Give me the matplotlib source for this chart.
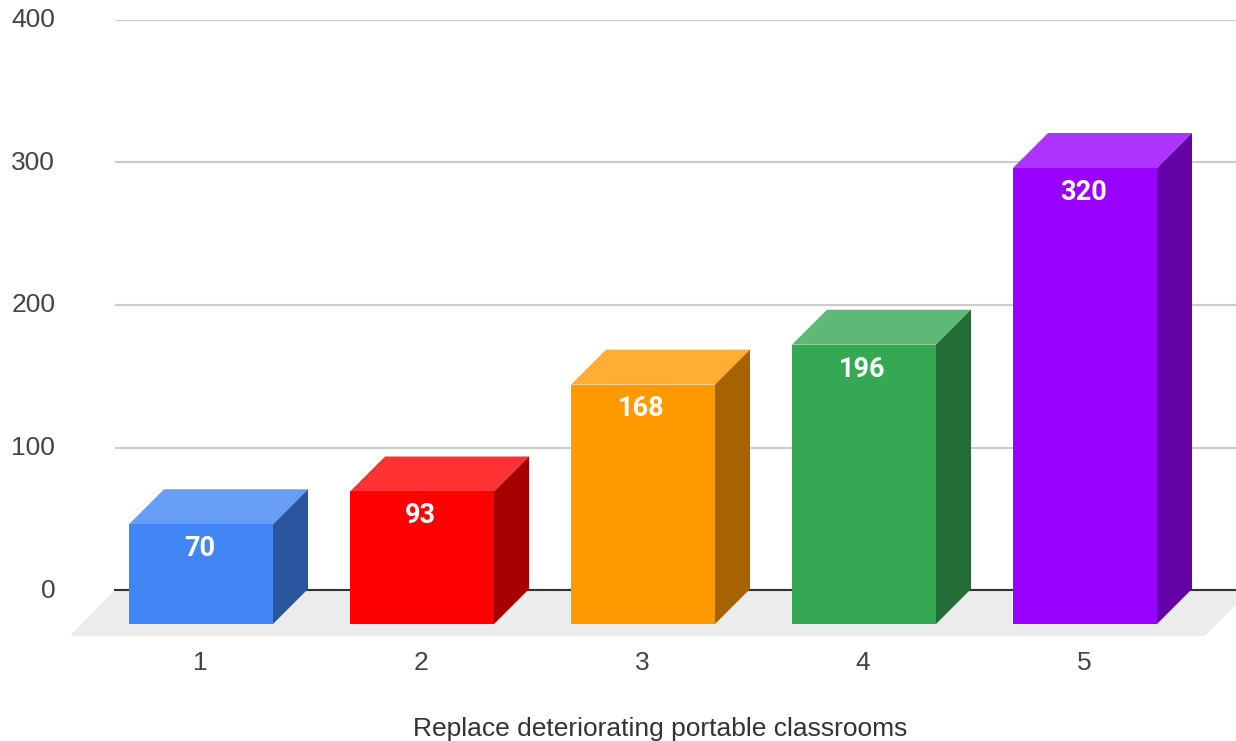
import numpy as np
import matplotlib
matplotlib.use("Agg")
import matplotlib.pyplot as plt
from matplotlib.patches import Polygon
from matplotlib.transforms import ScaledTranslation

categories = [1, 2, 3, 4, 5]
values = [70, 93, 168, 196, 320]
front_colors = ["#4285f4", "#ff0000", "#ff9900", "#34a853", "#9900ff"]
y_ticks = [0, 100, 200, 300, 400]
x_label = "Replace deteriorating portable classrooms"

# figure is laid out in pixels of the reference
W, H = 1236, 741
AX_LEFT, AX_RIGHT, AX_TOP, AX_BOTTOM = 115, 1236, 20, 590
PX_PER_X = 221.0
PX_PER_Y = (AX_BOTTOM - AX_TOP) / 400.0
FIRST_CENTER = 201.0

BAR_W = 144 / PX_PER_X
DEPTH_X = 35 / PX_PER_X
DEPTH_Y = 35 / PX_PER_Y
BASE_Y = -34 / PX_PER_Y


def shade(color, amount):
    # amount > 0 mixes towards white, amount < 0 darkens
    rgb = np.array(matplotlib.colors.to_rgb(color))
    if amount > 0:
        return tuple(rgb + (1 - rgb) * amount)
    return tuple(rgb * (1 + amount))


plt.rcParams["font.family"] = ["Liberation Sans", "DejaVu Sans"]

fig = plt.figure(figsize=(W / 100, H / 100), dpi=100)
ax = fig.add_axes([AX_LEFT / W, 1 - AX_BOTTOM / H, (AX_RIGHT - AX_LEFT) / W, (AX_BOTTOM - AX_TOP) / H])
ax.set_xlim(1 + (AX_LEFT - FIRST_CENTER) / PX_PER_X, 1 + (AX_RIGHT - FIRST_CENTER) / PX_PER_X)
ax.set_ylim(0, 400)
for s in ax.spines.values():
    s.set_visible(False)

# floor
x0, x1 = ax.get_xlim()
floor = Polygon([(x0, 0), (x1, 0), (x1, -15 / PX_PER_Y),
                 (x1 - 31 / PX_PER_X, -46 / PX_PER_Y), (x0 - 45 / PX_PER_X, -46 / PX_PER_Y)],
                closed=True, facecolor="#ececec", edgecolor="none", clip_on=False, zorder=1)
ax.add_patch(floor)

ax.set_yticks(y_ticks)
ax.grid(axis="y", color="#cccccc", lw=1.6, zorder=1.5)
ax.set_axisbelow(True)
ax.axhline(0, color="#333333", lw=1.5, zorder=2, clip_on=False)

for cat, val, col in zip(categories, values, front_colors):
    left = cat - BAR_W / 2
    right = cat + BAR_W / 2
    top = BASE_Y + val
    ax.bar(cat, val, width=BAR_W, bottom=BASE_Y, color=col, clip_on=False, zorder=4)
    top_face = [(left, top), (right, top), (right + DEPTH_X, top + DEPTH_Y), (left + DEPTH_X, top + DEPTH_Y)]
    side_face = [(right, BASE_Y), (right + DEPTH_X, BASE_Y + DEPTH_Y), (right + DEPTH_X, top + DEPTH_Y), (right, top)]
    ax.add_patch(Polygon(top_face, closed=True, facecolor=shade(col, 0.2), edgecolor="none", clip_on=False, zorder=3))
    ax.add_patch(Polygon(side_face, closed=True, facecolor=shade(col, -0.35), edgecolor="none", clip_on=False, zorder=3))
    ax.annotate(str(val), (cat, top), xytext=(-1, -17.5), textcoords="offset points",
                ha="center", va="center", color="white", fontsize=19.5, fontweight="bold",
                family=["Roboto", "DejaVu Sans"], zorder=5)

ax.set_xticks(categories)
ax.tick_params(axis="both", length=0, labelsize=19, labelcolor="#444444")
ax.tick_params(axis="y", pad=43)
ax.tick_params(axis="x", pad=44)
ax.set_xlabel(x_label, fontsize=19, color="#333333", x=(660 - AX_LEFT) / (AX_RIGHT - AX_LEFT), labelpad=30.5)

# small nudges of tick labels, in pixels
for lab in ax.get_yticklabels():
    lab.set_transform(lab.get_transform() + ScaledTranslation(0, 2 / 100, fig.dpi_scale_trans))
for lab in ax.get_xticklabels():
    lab.set_transform(lab.get_transform() + ScaledTranslation(-1 / 100, 0, fig.dpi_scale_trans))

fig.savefig("out.png", dpi=100)
